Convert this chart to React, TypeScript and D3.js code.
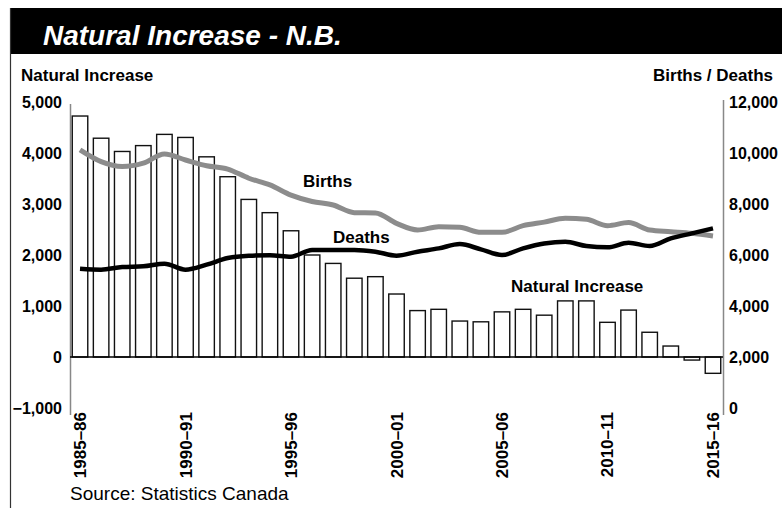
import React from "react";
import * as d3 from "d3";

const categories = [
  "1985–86","1986–87","1987–88","1988–89","1989–90","1990–91","1991–92","1992–93","1993–94","1994–95",
  "1995–96","1996–97","1997–98","1998–99","1999–00","2000–01","2001–02","2002–03","2003–04","2004–05",
  "2005–06","2006–07","2007–08","2008–09","2009–10","2010–11","2011–12","2012–13","2013–14","2014–15","2015–16",
];
const naturalIncrease = [
  4725, 4290, 4030, 4145, 4365, 4305, 3925, 3535, 3090, 2830,
  2475, 2000, 1835, 1545, 1575, 1235, 910, 935, 705, 690,
  885, 935, 820, 1100, 1100, 680, 920, 485, 215, -60, -320,
];
const births = [
  10120, 9660, 9470, 9600, 9960, 9725, 9500, 9370, 9010, 8750,
  8350, 8100, 7960, 7660, 7650, 7240, 6980, 7110, 7085, 6890,
  6890, 7150, 7290, 7440, 7400, 7150, 7270, 6980, 6915, 6850, 6745,
];
const deaths = [
  5460, 5425, 5530, 5555, 5660, 5425, 5620, 5880, 5970, 5990,
  5935, 6200, 6200, 6200, 6130, 5975, 6130, 6260, 6430, 6220,
  6000, 6260, 6450, 6520, 6350, 6300, 6480, 6350, 6650, 6850, 7045,
];
const leftTicks = [-1000, 0, 1000, 2000, 3000, 4000, 5000];
const rightTicks = [0, 2000, 4000, 6000, 8000, 10000, 12000];
const labeledCategories = ["1985–86", "1990–91", "1995–96", "2000–01", "2005–06", "2010–11", "2015–16"];

const FONT = "'Liberation Sans Narrow', 'Arial Narrow', 'Liberation Sans', sans-serif";

export default function App() {
  const W = 782, H = 508;
  const x = d3.scaleBand<string>().domain(categories).range([70, 723]).paddingInner(0.265).paddingOuter(0.107);
  const yL = d3.scaleLinear().domain([-1000, 5000]).range([408, 102]);
  const yR = d3.scaleLinear().domain([0, 12000]).range([408, 102]);
  const fmt = d3.format(",");
  const cx = (c: string) => (x(c) as number) + x.bandwidth() / 2;
  const line = d3.line<number>().x((_, i) => cx(categories[i])).y((d) => yR(d)).curve(d3.curveMonotoneX);

  return (
    <svg width={W} height={H} style={{ position: "absolute", left: 0, top: 0, background: "#fff" }} fontFamily={FONT}>
      <rect x={10} y={8} width={W - 10} height={46} fill="#000" />
      <line x1={10.5} x2={10.5} y1={8} y2={H} stroke="#333" strokeWidth={1.2} />
      <text x={43} y={45} fill="#fff" fontFamily="'Liberation Sans', Arial, sans-serif" fontWeight="bold" fontStyle="italic" fontSize={28}>
        Natural Increase - N.B.
      </text>
      <text x={21} y={81} fontSize={17} fontWeight="bold" fill="#000">Natural Increase</text>
      <text x={773} y={81} fontSize={17} fontWeight="bold" textAnchor="end" fill="#000">Births / Deaths</text>

      {/* axes lines */}
      <line x1={70.5} x2={70.5} y1={104} y2={415} stroke="#888" strokeWidth={1.5} />
      <line x1={723.5} x2={723.5} y1={100} y2={415} stroke="#888" strokeWidth={1.5} />

      {leftTicks.map((t) => (
        <text key={"l" + t} x={62} y={yL(t)} dy="0.35em" textAnchor="end" fontSize={16} fontWeight="bold">{fmt(t)}</text>
      ))}
      {rightTicks.map((t) => (
        <text key={"r" + t} x={729} y={yR(t)} dy="0.35em" textAnchor="start" fontSize={16} fontWeight="bold">{fmt(t)}</text>
      ))}

      {/* bars */}
      {categories.map((c, i) => {
        const v = naturalIncrease[i];
        const y0 = yL(0), y1 = yL(v);
        return (
          <rect key={c} x={x(c)} y={Math.min(y0, y1)} width={x.bandwidth()} height={Math.abs(y1 - y0)}
            fill="#fff" stroke="#111" strokeWidth={1.4} />
        );
      })}
      <line x1={70} x2={723} y1={yL(0)} y2={yL(0)} stroke="#000" strokeWidth={1.6} />

      <path d={line(births) || ""} fill="none" stroke="#8c8c8c" strokeWidth={5} strokeLinejoin="round" />
      <path d={line(deaths) || ""} fill="none" stroke="#000" strokeWidth={4.5} strokeLinejoin="round" />

      <text x={303} y={187} fontSize={17} fontWeight="bold">Births</text>
      <text x={333} y={243} fontSize={17} fontWeight="bold">Deaths</text>
      <text x={511} y={292} fontSize={17} fontWeight="bold">Natural Increase</text>

      {labeledCategories.map((c) => (
        <text key={"x" + c} transform={`translate(${cx(c) + 6},412) rotate(-90)`} textAnchor="end" fontSize={17} fontWeight="bold">{c}</text>
      ))}

      <text x={70} y={500} fontSize={19} fontWeight="normal" fill="#000">Source: Statistics Canada</text>
    </svg>
  );
}
